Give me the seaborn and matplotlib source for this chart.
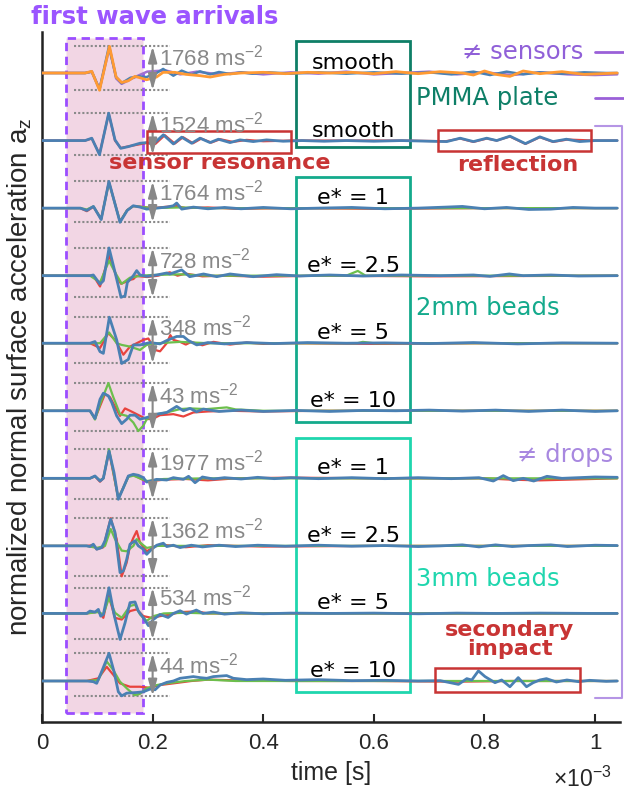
import numpy as np
import matplotlib
matplotlib.use("Agg")
import matplotlib.pyplot as plt
from matplotlib.patches import Rectangle
import seaborn as sns

# time in ms (axis is in s, x10^-3), amplitude in units of the trace spacing
# ---------------- trace 0 : smooth, three sensors ----------------
t0_orange = [0, 0.078, 0.090, 0.104, 0.122, 0.134, 0.144, 0.156, 0.168, 0.177, 0.189, 0.207, 0.219, 0.24, 0.26,
             0.286, 0.304, 0.33, 0.36, 0.40, 0.44, 0.48, 0.52, 0.56, 0.60, 0.64, 0.68, 0.72, 0.76, 0.78, 0.80,
             0.82, 0.846, 0.87, 0.90, 0.94, 0.98, 1.04]
a0_orange = [0, 0, 0.025, -0.255, 0.395, -0.06, -0.14, -0.115, -0.05, -0.07, -0.10, -0.06, 0.01, 0.01, -0.02,
             -0.04, -0.06, -0.02, 0.0, 0.01, -0.01, 0.01, 0.0, 0.01, -0.01, 0.02, -0.01, 0.02, 0.0, -0.03, 0.03,
             -0.02, -0.05, 0.03, -0.01, 0.02, -0.02, 0.0]
t0_purple = [0, 0.078, 0.090, 0.104, 0.122, 0.134, 0.144, 0.168, 0.19, 0.207, 0.225, 0.25, 0.28, 0.32, 0.36,
             0.40, 0.45, 0.50, 0.55, 0.60, 0.65, 0.70, 0.75, 0.80, 0.85, 0.90, 0.95, 1.0, 1.04]
a0_purple = [0, 0, 0.02, -0.24, 0.38, -0.08, -0.16, -0.06, 0.02, 0.03, 0.035, -0.02, 0.02, -0.02, 0.01,
             -0.02, 0.01, -0.01, 0.02, -0.02, 0.0, 0.02, -0.02, 0.01, -0.03, 0.01, -0.02, -0.03, -0.02]
t0_blue = [0, 0.078, 0.090, 0.104, 0.121, 0.134, 0.144, 0.160, 0.175, 0.189, 0.207, 0.219, 0.2375, 0.2525,
           0.2706, 0.2857, 0.304, 0.32, 0.34, 0.36, 0.38, 0.41, 0.45, 0.50, 0.55, 0.60, 0.65, 0.70, 0.74, 0.78,
           0.81, 0.84, 0.87, 0.90, 0.94, 0.98, 1.02, 1.04]
a0_blue = [0, 0, 0.02, -0.24, 0.39, -0.06, -0.15, -0.07, -0.05, -0.06, 0.0, 0.06, -0.04, 0.035, -0.025, 0.025,
           -0.02, 0.015, -0.015, 0.01, -0.01, 0.01, -0.01, 0.01, -0.01, 0.01, -0.01, 0.01, -0.02, 0.02, -0.03,
           0.02, -0.02, 0.01, -0.01, 0.01, 0.0, 0.0]

# ---------------- trace 1 : smooth, PMMA plate ----------------
t1_blue = [0, 0.078, 0.090, 0.104, 0.1206, 0.132, 0.1423, 0.156, 0.177, 0.189, 0.2013, 0.2194, 0.2375, 0.2525,
           0.2706, 0.2857, 0.3038, 0.3189, 0.340, 0.358, 0.382, 0.406, 0.436, 0.47, 0.51, 0.55, 0.60, 0.65, 0.70,
           0.732, 0.756, 0.78, 0.804, 0.822, 0.846, 0.874, 0.90, 0.924, 0.948, 0.972, 1.0, 1.04]
a1_blue = [0, 0, 0.035, -0.21, 0.405, 0.01, -0.115, -0.09, -0.04, -0.03, -0.05, 0.085, -0.05, 0.05, -0.04, 0.035,
           -0.03, 0.02, -0.03, 0.01, -0.015, 0.01, -0.01, 0.0, -0.01, 0.0, -0.01, 0.0, -0.01, -0.015, 0.035,
           -0.015, 0.035, 0.0, 0.065, -0.045, 0.055, -0.015, 0.02, -0.015, 0.0, 0.0]
t1_red = [0, 0.078, 0.090, 0.104, 0.1206, 0.132, 0.1423, 0.16, 0.19, 0.205, 0.222, 0.240, 0.255, 0.273, 0.288,
          0.306, 0.322, 0.345, 0.37, 0.40, 0.45, 0.55, 0.65, 0.73, 0.756, 0.78, 0.804, 0.822, 0.846, 0.874, 0.90,
          0.924, 0.95, 1.0, 1.04]
a1_red = [0, 0, 0.03, -0.2, 0.4, 0.0, -0.11, -0.08, -0.035, -0.05, 0.08, -0.045, 0.05, -0.04, 0.03, -0.03, 0.02,
          -0.02, 0.01, -0.01, 0.0, 0.0, 0.0, -0.01, 0.03, -0.02, 0.03, 0.0, 0.06, -0.05, 0.05, -0.02, 0.015, 0.0, 0.0]

# ---------------- trace 2 : 2mm beads, e* = 1 ----------------
t2_blue = [0, 0.0693, 0.081, 0.093, 0.107, 0.121, 0.141, 0.154, 0.165, 0.177, 0.189, 0.201, 0.2255, 0.2375,
           0.2435, 0.2526, 0.2736, 0.30, 0.33, 0.36, 0.40, 0.45, 0.50, 0.56, 0.62, 0.68, 0.73, 0.76, 0.80, 0.84,
           0.88, 0.92, 0.96, 1.0, 1.04]
a2_blue = [0, 0, -0.035, 0.025, -0.17, 0.395, -0.21, -0.035, 0.035, 0.015, -0.015, -0.005, 0.015, 0.035, 0.075,
           -0.015, 0.015, -0.01, 0.01, -0.01, 0.01, -0.01, 0.0, 0.01, -0.01, 0.0, 0.015, 0.025, -0.01, 0.01,
           -0.02, -0.015, 0.01, 0.0, 0.0]
t2_red = [0, 0.0693, 0.081, 0.093, 0.107, 0.121, 0.141, 0.154, 0.165, 0.18, 0.20, 0.225, 0.2435, 0.26, 0.30,
          0.35, 0.45, 0.6, 0.8, 1.04]
a2_red = [0, 0, -0.045, 0.02, -0.16, 0.39, -0.2, -0.03, 0.03, 0.02, 0.0, 0.02, 0.03, 0.0, 0.01, -0.01, 0.0, -0.01,
          0.0, 0.0]
t2_green = [0, 0.0693, 0.081, 0.093, 0.107, 0.121, 0.141, 0.154, 0.165, 0.2, 0.25, 0.3, 0.6, 1.04]
a2_green = [0, 0, -0.02, 0.025, -0.16, 0.38, -0.2, -0.03, 0.03, 0.0, 0.01, 0.0, 0.0, 0.0]

# ---------------- trace 3 : 2mm beads, e* = 2.5 ----------------
t3_blue = [0, 0.0868, 0.0928, 0.1049, 0.111, 0.1212, 0.135, 0.1429, 0.1501, 0.1543, 0.1652, 0.1712, 0.1772,
           0.1893, 0.2074, 0.2255, 0.231, 0.2526, 0.267, 0.292, 0.316, 0.34, 0.382, 0.424, 0.466, 0.52, 0.58, 0.65,
           0.72, 0.78, 0.81, 0.845, 0.87, 0.92, 0.97, 1.04]
a3_blue = [0, 0, 0.01, -0.125, -0.075, 0.41, -0.05, -0.32, -0.30, -0.1, 0.0, 0.075, 0.01, -0.01, 0.01, 0.04,
           0.025, 0.085, -0.015, 0.025, -0.015, 0.025, -0.015, 0.015, -0.005, 0.01, -0.005, 0.01, 0.0, 0.01,
           -0.01, 0.025, 0.0, 0.01, -0.005, 0.0]
t3_red = [0, 0.0868, 0.0928, 0.1049, 0.1212, 0.135, 0.1429, 0.155, 0.16, 0.1652, 0.1712, 0.1772, 0.19, 0.21,
          0.231, 0.245, 0.26, 0.29, 0.33, 0.40, 0.50, 0.7, 1.04]
a3_red = [0, 0, 0.0, -0.16, 0.30, -0.02, -0.12, -0.08, -0.06, -0.05, 0.0, -0.01, -0.02, 0.0, 0.05, 0.0, 0.03,
          -0.01, 0.0, -0.015, 0.0, -0.01, 0.0]
t3_green = [0, 0.0868, 0.1049, 0.1212, 0.132, 0.1441, 0.159, 0.18, 0.2, 0.25, 0.3, 0.4, 0.55, 0.571, 0.585, 0.7,
            1.04]
a3_green = [0, 0, -0.10, 0.22, 0.05, -0.12, -0.03, 0.0, 0.01, 0.02, 0.0, 0.0, 0.0, 0.07, 0.0, 0.0, 0.0]

# ---------------- trace 4 : 2mm beads, e* = 5 ----------------
t4_blue = [0, 0.0868, 0.0958, 0.1049, 0.1109, 0.1218, 0.135, 0.1441, 0.1501, 0.156, 0.1652, 0.1772, 0.1953,
           0.2134, 0.2255, 0.2435, 0.2556, 0.2646, 0.2797, 0.30, 0.33, 0.37, 0.42, 0.48, 0.55, 0.62, 0.70, 0.78,
           0.86, 0.94, 1.04]
a4_blue = [0, 0, 0.025, -0.125, -0.15, 0.385, 0.05, -0.30, -0.27, -0.24, -0.025, -0.025, 0.01, -0.01, 0.04,
           0.10, 0.10, 0.04, -0.025, 0.01, -0.01, 0.01, -0.005, 0.01, 0.0, 0.005, -0.005, 0.01, -0.01, 0.005, 0.0]
t4_red = [0, 0.0868, 0.1049, 0.12, 0.132, 0.1471, 0.1591, 0.1712, 0.1833, 0.1923, 0.2044, 0.2134, 0.2255, 0.232,
          0.2375, 0.2496, 0.26, 0.27, 0.29, 0.31, 0.34, 0.37, 0.40, 0.45, 0.6, 0.8, 1.04]
a4_red = [0, 0, -0.07, 0.15, 0.05, -0.17, -0.05, 0.0, 0.05, 0.07, -0.10, -0.12, 0.0, 0.12, 0.05, 0.02, -0.02,
          0.02, -0.03, 0.02, -0.02, 0.01, -0.01, 0.0, -0.01, 0.0, 0.0]
t4_green = [0, 0.0868, 0.1049, 0.1212, 0.135, 0.1441, 0.1591, 0.1772, 0.1893, 0.21, 0.25, 0.3, 0.57, 0.58, 0.6,
            1.04]
a4_green = [0, 0, 0.0, 0.16, 0.0, -0.025, -0.05, -0.10, -0.025, 0.0, 0.02, 0.0, 0.0, 0.02, 0.0, 0.0]

# ---------------- trace 5 : 2mm beads, e* = 10 ----------------
t5_blue = [0, 0.0868, 0.0928, 0.0958, 0.1049, 0.1109, 0.12, 0.126, 0.135, 0.1441, 0.1531, 0.1591, 0.1682,
           0.1772, 0.1893, 0.2074, 0.2255, 0.2435, 0.2556, 0.2676, 0.2797, 0.2917, 0.32, 0.36, 0.40, 0.46, 0.52,
           0.58, 0.64, 0.70, 0.76, 0.82, 0.88, 0.94, 1.0, 1.04]
a5_blue = [0, 0, -0.075, -0.115, 0.17, 0.26, 0.22, 0.125, -0.075, -0.19, -0.125, -0.065, -0.065, -0.125, -0.10,
           -0.05, -0.025, 0.065, 0.0, 0.035, -0.015, 0.025, -0.01, 0.01, -0.01, 0.005, -0.01, 0.005, 0.0, 0.01,
           -0.005, 0.01, -0.01, 0.01, -0.01, 0.0]
t5_red = [0, 0.0868, 0.0958, 0.1139, 0.123, 0.1411, 0.1501, 0.1591, 0.1712, 0.1893, 0.2013, 0.2134, 0.2375,
          0.2556, 0.2736, 0.30, 0.34, 0.40, 0.5, 0.7, 1.04]
a5_red = [0, 0, -0.115, 0.25, 0.2, -0.075, 0.035, 0.0, -0.05, -0.125, -0.115, -0.065, -0.05, -0.085, -0.025,
          -0.01, 0.0, -0.01, 0.0, 0.0, 0.0]
t5_green = [0, 0.0868, 0.0958, 0.105, 0.12, 0.129, 0.1411, 0.1531, 0.1652, 0.1742, 0.1833, 0.1893, 0.2074,
            0.2255, 0.2496, 0.2676, 0.2978, 0.3339, 0.35, 0.40, 0.6, 1.04]
a5_green = [0, 0, -0.13, 0.1, 0.41, 0.2, -0.05, -0.075, -0.175, -0.30, -0.22, -0.125, -0.05, -0.025, 0.025,
            0.035, 0.025, 0.05, 0.02, 0.0, 0.0, 0.0]

# ---------------- trace 6 : 3mm beads, e* = 1 ----------------
t6_blue = [0, 0.0868, 0.0958, 0.1049, 0.1109, 0.1212, 0.1302, 0.138, 0.1471, 0.1561, 0.1652, 0.1742, 0.1833,
           0.1893, 0.2074, 0.2255, 0.2375, 0.2556, 0.265, 0.2767, 0.29, 0.31, 0.33, 0.36, 0.39, 0.42, 0.45, 0.50,
           0.56, 0.62, 0.68, 0.74, 0.79, 0.816, 0.834, 0.852, 0.87, 0.889, 0.913, 0.94, 0.97, 1.0, 1.04]
a6_blue = [0, 0, 0.035, -0.04, 0.0, 0.405, 0.085, -0.31, -0.14, 0.035, 0.06, 0.045, 0.01, -0.055, -0.015,
           -0.025, 0.01, -0.015, 0.03, -0.065, 0.02, -0.01, 0.01, -0.01, 0.015, -0.005, 0.01, -0.005, 0.01,
           -0.005, 0.01, -0.005, 0.01, -0.04, 0.04, -0.035, 0.0, -0.04, 0.03, 0.0, 0.01, 0.02, 0.015]
t6_red = [0, 0.0868, 0.0958, 0.1049, 0.1109, 0.1212, 0.138, 0.1561, 0.1652, 0.1893, 0.22, 0.26, 0.30, 0.35,
          0.45, 0.6, 0.8, 0.85, 0.9, 1.04]
a6_red = [0, 0, 0.03, -0.05, 0.0, 0.40, -0.30, 0.03, 0.05, -0.05, -0.02, -0.01, -0.03, 0.0, 0.01, 0.0, 0.0,
          -0.02, -0.03, 0.0]
t6_green = [0, 0.0868, 0.0958, 0.1049, 0.1109, 0.1212, 0.138, 0.1561, 0.1652, 0.1893, 0.22, 0.3, 0.6, 1.04]
a6_green = [0, 0, 0.03, -0.03, 0.0, 0.43, -0.30, 0.02, 0.04, -0.04, -0.01, 0.0, 0.0, 0.0]

# ---------------- trace 7 : 3mm beads, e* = 2.5 ----------------
t7_blue = [0, 0.0808, 0.0868, 0.0928, 0.0989, 0.1079, 0.1139, 0.1242, 0.132, 0.1411, 0.147, 0.1531, 0.1591,
           0.1682, 0.1742, 0.1833, 0.1893, 0.1983, 0.2074, 0.2194, 0.2255, 0.2375, 0.2496, 0.27, 0.29, 0.32, 0.35,
           0.39, 0.44, 0.50, 0.56, 0.62, 0.68, 0.72, 0.76, 0.79, 0.82, 0.85, 0.88, 0.92, 0.95, 1.0, 1.04]
a7_blue = [0, 0, -0.01, 0.025, -0.05, -0.025, 0.075, 0.395, 0.2, -0.395, -0.37, -0.2, 0.025, 0.075, 0.0, -0.05,
           -0.125, -0.05, 0.01, 0.04, -0.01, 0.01, -0.025, 0.01, -0.015, 0.01, -0.01, 0.01, -0.005, 0.01, -0.005,
           0.005, -0.01, 0.0, 0.015, -0.015, 0.015, -0.01, 0.005, 0.015, -0.01, 0.01, 0.005]
t7_red = [0, 0.0808, 0.0928, 0.0989, 0.1109, 0.1242, 0.135, 0.1441, 0.153, 0.1591, 0.1652, 0.1712, 0.1772,
          0.1893, 0.2013, 0.2134, 0.2375, 0.26, 0.30, 0.4, 0.6, 1.04]
a7_red = [0, 0, 0.01, -0.05, -0.02, 0.41, 0.1, -0.45, -0.25, 0.0, 0.12, 0.22, 0.05, -0.08, -0.02, 0.02, 0.0,
          -0.02, 0.01, -0.01, 0.0, 0.0]
t7_green = [0, 0.0808, 0.0989, 0.1139, 0.1242, 0.132, 0.1441, 0.1531, 0.1652, 0.1712, 0.1772, 0.1893, 0.21,
            0.25, 0.5, 1.04]
a7_green = [0, 0, -0.03, 0.0, 0.25, 0.1, -0.07, -0.08, 0.0, 0.1, 0.05, -0.03, 0.0, 0.0, 0.0, 0.0]

# ---------------- trace 8 : 3mm beads, e* = 5 ----------------
t8_blue = [0, 0.0808, 0.0868, 0.0958, 0.1019, 0.1061, 0.1109, 0.1212, 0.1302, 0.1411, 0.1501, 0.1591, 0.1682,
           0.1742, 0.1833, 0.1923, 0.2013, 0.2134, 0.228, 0.2375, 0.2496, 0.261, 0.279, 0.291, 0.31, 0.33, 0.36,
           0.40, 0.45, 0.52, 0.60, 0.68, 0.75, 0.82, 0.90, 1.0, 1.04]
a8_blue = [0, 0, 0.035, 0.02, 0.06, -0.04, -0.015, 0.38, -0.015, -0.385, -0.14, 0.16, 0.17, 0.035, -0.065,
           -0.18, -0.09, -0.015, -0.06, 0.0, 0.04, -0.01, 0.05, 0.0, 0.02, -0.01, 0.01, -0.005, 0.005, 0.0, 0.005,
           -0.005, 0.005, 0.0, 0.005, 0.0, 0.0]
t8_red = [0, 0.0808, 0.1019, 0.1109, 0.12, 0.132, 0.1441, 0.1591, 0.1712, 0.1833, 0.1983, 0.2134, 0.23, 0.25,
          0.28, 0.30, 0.4, 1.04]
a8_red = [0, 0, 0.03, -0.065, 0.28, -0.065, -0.09, 0.035, 0.06, -0.04, -0.065, -0.04, -0.02, 0.02, 0.03, 0.0,
          0.0, 0.0]
t8_green = [0, 0.0808, 0.1019, 0.1109, 0.1212, 0.132, 0.1441, 0.1591, 0.1682, 0.1772, 0.1893, 0.2013, 0.22,
            0.26, 0.3, 1.04]
a8_green = [0, 0, 0.02, -0.015, 0.23, 0.01, -0.065, 0.11, 0.13, -0.015, -0.11, -0.04, 0.0, 0.01, 0.0, 0.0]

# ---------------- trace 9 : 3mm beads, e* = 10 ----------------
t9_blue = [0, 0.0808, 0.0928, 0.0989, 0.1079, 0.1212, 0.1302, 0.138, 0.1441, 0.1531, 0.1712, 0.1833, 0.1953,
           0.2044, 0.2134, 0.2255, 0.2375, 0.2496, 0.2736, 0.2857, 0.2978, 0.3098, 0.3339, 0.346, 0.37, 0.40,
           0.44, 0.50, 0.56, 0.62, 0.68, 0.72, 0.738, 0.753, 0.768, 0.777, 0.789, 0.801, 0.819, 0.831, 0.846,
           0.861, 0.876, 0.888, 0.900, 0.912, 0.930, 0.949, 0.97, 0.99, 1.02, 1.04]
a9_blue = [0, 0, -0.01, -0.035, 0.14, 0.41, 0.14, -0.16, -0.22, -0.18, -0.17, -0.16, -0.12, -0.13, -0.06, -0.02,
           0.0, 0.04, 0.065, 0.05, 0.04, 0.065, 0.08, 0.04, 0.02, 0.03, 0.01, 0.02, 0.005, 0.01, 0.0, 0.005,
           -0.025, -0.05, 0.035, 0.015, 0.15, 0.065, -0.025, 0.015, -0.085, 0.05, -0.085, -0.025, 0.015, 0.035,
           -0.015, 0.015, -0.01, 0.01, -0.005, 0.0]
t9_red = [0, 0.0808, 0.1019, 0.117, 0.129, 0.141, 0.159, 0.177, 0.1953, 0.2134, 0.2375, 0.27, 0.30, 0.35, 0.45,
          0.6, 0.75, 0.85, 1.04]
a9_red = [0, 0, 0.04, 0.21, 0.09, -0.035, -0.085, -0.085, -0.1, -0.06, -0.035, 0.0, 0.02, 0.01, 0.0, 0.0, -0.01,
          0.0, 0.0]
t9_green = [0, 0.0808, 0.1019, 0.117, 0.129, 0.141, 0.156, 0.168, 0.177, 0.189, 0.2074, 0.2255, 0.26, 0.30, 0.35,
            0.5, 1.04]
a9_green = [0, 0, 0.015, 0.29, 0.16, -0.01, -0.13, -0.21, -0.19, -0.11, -0.06, -0.035, 0.0, 0.02, 0.0, 0.0, 0.0]

# peak acceleration labels and case labels, top to bottom
peak_labels = ["1768", "1524", "1764", "728", "348", "43", "1977", "1362", "534", "44"]
case_labels = ["smooth", "smooth", "e* = 1", "e* = 2.5", "e* = 5", "e* = 10",
               "e* = 1", "e* = 2.5", "e* = 5", "e* = 10"]

BLUE, RED, GREEN = "#4a80b3", "#e8433e", "#6cbf4c"
ORANGE, PURPLE = "#ff9a33", "#a070d0"

series = [
    (0, t0_purple, a0_purple, PURPLE, 1.8), (0, t0_blue, a0_blue, BLUE, 1.8), (0, t0_orange, a0_orange, ORANGE, 2.0),
    (1, t1_red, a1_red, RED, 1.6), (1, t1_blue, a1_blue, BLUE, 2.0),
    (2, t2_red, a2_red, RED, 1.6), (2, t2_green, a2_green, GREEN, 1.6), (2, t2_blue, a2_blue, BLUE, 2.0),
    (3, t3_red, a3_red, RED, 1.6), (3, t3_green, a3_green, GREEN, 1.6), (3, t3_blue, a3_blue, BLUE, 2.0),
    (4, t4_red, a4_red, RED, 1.6), (4, t4_green, a4_green, GREEN, 1.6), (4, t4_blue, a4_blue, BLUE, 2.0),
    (5, t5_red, a5_red, RED, 1.6), (5, t5_green, a5_green, GREEN, 1.6), (5, t5_blue, a5_blue, BLUE, 2.0),
    (6, t6_red, a6_red, RED, 1.6), (6, t6_green, a6_green, GREEN, 1.6), (6, t6_blue, a6_blue, BLUE, 2.0),
    (7, t7_red, a7_red, RED, 1.6), (7, t7_green, a7_green, GREEN, 1.6), (7, t7_blue, a7_blue, BLUE, 2.0),
    (8, t8_red, a8_red, RED, 1.6), (8, t8_green, a8_green, GREEN, 1.6), (8, t8_blue, a8_blue, BLUE, 2.0),
    (9, t9_red, a9_red, RED, 1.6), (9, t9_green, a9_green, GREEN, 1.6), (9, t9_blue, a9_blue, BLUE, 2.0),
]

sns.set_style("white")
plt.rcParams["font.family"] = ["DejaVu Sans"]
plt.rcParams["mathtext.fontset"] = "custom"
plt.rcParams["mathtext.rm"] = "Liberation Sans"
plt.rcParams["mathtext.it"] = "Liberation Sans"

fig = plt.figure(figsize=(6.24, 7.96), dpi=100)
ax = fig.add_axes([42 / 624, 74 / 796, 578 / 624, 690 / 796])

# first wave arrival window
ax.add_patch(Rectangle((0.0434, -9.474), 0.1396, 9.996, facecolor="#f2d6e4", edgecolor="#9b4dff",
                       lw=2, linestyle=(0, (3, 2)), zorder=0))

for i, t, a, c, lw in series:
    sns.lineplot(x=np.array(t), y=np.array(a) - i, color=c, lw=lw, ax=ax, sort=False,
                 estimator=None, legend=False, zorder=3)

# peak-to-peak markers
gray = "#888888"
for i in range(10):
    amps = np.concatenate([np.array(a) for k, t, a, c, lw in series if k == i])
    top, bot = amps.max() - i, amps.min() - i
    for yy in (top, bot):
        ax.plot([0.058, 0.231], [yy, yy], color="#8a8a8a", lw=1.5, ls=(0, (1, 1)), zorder=2)
    ax.annotate("", xy=(0.2, top), xytext=(0.2, bot),
                arrowprops=dict(arrowstyle="<|-|>,head_length=0.8,head_width=0.22", color=gray, lw=1.5,
                                shrinkA=0, shrinkB=0, mutation_scale=12), zorder=4)
    ax.text(0.212, -i + 0.23, peak_labels[i] + r" ms$^{\mathrm{-2}}$", color=gray, fontsize=16,
            family="Liberation Sans", ha="left", va="center", zorder=5)
    ax.text(0.563, -i + 0.06, case_labels[i], fontsize=16, color="black", ha="center", va="baseline", zorder=5)

# condition boxes
ax.add_patch(Rectangle((0.459, -1.097), 0.206, 1.571, fill=False, edgecolor="#0e7f67", lw=2, zorder=1))
ax.add_patch(Rectangle((0.459, -5.171), 0.206, 3.63, fill=False, edgecolor="#14aa8c", lw=2, zorder=1))
ax.add_patch(Rectangle((0.459, -9.17), 0.206, 3.762, fill=False, edgecolor="#1fd6ae", lw=2, zorder=1))
ax.text(0.676, -0.371, "PMMA plate", color="#0e7f67", fontsize=17.5, va="center", ha="left")
ax.text(0.676, -3.482, "2mm beads", color="#14aa8c", fontsize=17.5, va="center", ha="left")
ax.text(0.676, -7.497, "3mm beads", color="#1fd6ae", fontsize=17.5, va="center", ha="left")

# highlighted features
red_box = "#c83434"
ax.add_patch(Rectangle((0.190, -1.19), 0.26, 0.33, fill=False, edgecolor=red_box, lw=1.8, zorder=4))
ax.add_patch(Rectangle((0.716, -1.156), 0.277, 0.311, fill=False, edgecolor=red_box, lw=1.8, zorder=4))
ax.add_patch(Rectangle((0.711, -9.17), 0.262, 0.355, fill=False, edgecolor=red_box, lw=1.8, zorder=4))
ax.text(0.322, -1.334, "sensor resonance", color=red_box, fontsize=16, fontweight="bold", ha="center", va="center")
ax.text(0.861, -1.363, "reflection", color=red_box, fontsize=16, fontweight="bold", ha="center", va="center")
ax.text(0.846, -8.386, "secondary\nimpact", color=red_box, fontsize=16, fontweight="bold", ha="center",
        va="center", linespacing=0.95)

ax.text(0.204, 0.83, "first wave arrivals", color="#9b55ff", fontsize=17.5, fontweight="bold",
        ha="center", va="center", clip_on=False)

# right-hand groupings
ax.text(0.978, 0.311, "\u2260 sensors", color="#9060d8", fontsize=17.5, ha="right", va="center")
ax.plot([1.0, 1.07], [0.311, 0.311], color="#9a60d8", lw=2, clip_on=False)
ax.plot([1.0, 1.07], [-0.371, -0.371], color="#9a60d8", lw=2, clip_on=False)
ax.plot([1.0, 1.049, 1.049, 1.0], [-0.786, -0.786, -9.245, -9.245], color="#b595e5", lw=1.5, clip_on=False)
ax.text(1.033, -5.66, "\u2260 drops", color="#a888e0", fontsize=17.5, ha="right", va="center")

ax.set_xlim(0, 1.045)
ax.set_ylim(-9.607, 0.607)
ax.set_yticks([])
ax.set_xticks([0, 0.2, 0.4, 0.6, 0.8, 1.0])
ax.set_xticklabels(["0", "0.2", "0.4", "0.6", "0.8", "1"], family="Liberation Sans", fontsize=16)
ax.tick_params(axis="x", direction="in", length=6, width=1.5, pad=8, bottom=True)
for side in ("top", "right"):
    ax.spines[side].set_visible(False)
for side in ("left", "bottom"):
    ax.spines[side].set_linewidth(1.8)
    ax.spines[side].set_color("#222222")
ax.set_xlabel("time [s]", family="Liberation Sans", fontsize=18, labelpad=5)
ax.set_ylabel(r"normalized normal surface acceleration a$_{\mathrm{z}}$", family="Liberation Sans",
              fontsize=20, labelpad=6)
fig.text(612 / 624, 1 - 779 / 796, r"$\times$10$^{\mathrm{-3}}$", family="Liberation Sans", fontsize=16.5,
         ha="right", va="center")

fig.savefig("out.png", dpi=100)
